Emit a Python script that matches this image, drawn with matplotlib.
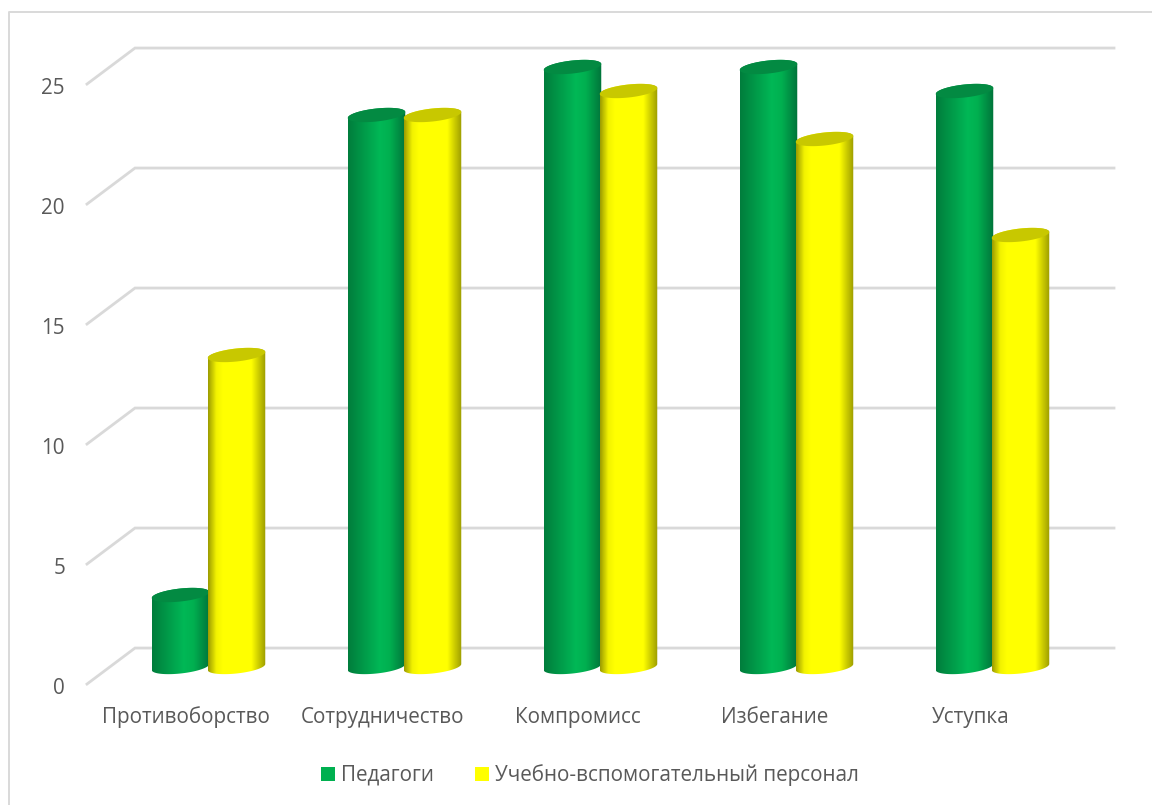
import numpy as np
import matplotlib
matplotlib.use("Agg")
import matplotlib.pyplot as plt
from matplotlib.colors import LinearSegmentedColormap
from matplotlib.patches import Polygon, Rectangle

plt.rcParams['font.family'] = ['Open Sans', 'DejaVu Sans']

CATEGORIES = ['Противоборство', 'Сотрудничество', 'Компромисс', 'Избегание', 'Уступка']
PEDAGOGI = [3, 23, 25, 25, 24]
PERSONAL = [13, 23, 24, 22, 18]
SERIES_NAMES = ['Педагоги', 'Учебно-вспомогательный персонал']
Y_TICKS = [0, 5, 10, 15, 20, 25]

W, H = 1152, 805
X0, X_STEP = 208.5, 196.0   # pixel x of first category, spacing
Y0, Y_STEP = 667.0, 24.0    # pixel y of value 0, pixels per unit
BAR_W = 57.5 / X_STEP
BAR_OFF = 28 / X_STEP       # neighbouring cylinders overlap slightly
RY = 6.5 / Y_STEP           # half height of a cylinder cap
TILT = (3.0 / Y_STEP) / (BAR_W / 2)  # caps lean up to the right
WALL_BACK, WALL_FRONT = 0.79, -0.71
GRID_COLOR = '#d9d9d9'
TEXT_COLOR = '#595959'
FONT_SIZE = 14.9

GREEN_STOPS = [(0, '#007d3c'), (0.55, '#00b856'), (0.72, '#00b050'), (1, '#00733a')]
YELLOW_STOPS = [(0, '#9c9c00'), (0.14, '#f2f200'), (0.25, '#ffff00'), (0.75, '#ffff00'), (1, '#9c9c00')]


def px_x(x):
    return (x - X0) / X_STEP


def px_y(y):
    return (Y0 - y) / Y_STEP


def ellipse_pts(cx, cy, t):
    a = BAR_W / 2
    dx = a * np.cos(t)
    return np.column_stack([cx + dx, cy + RY * np.sin(t) + TILT * dx])


def draw_cylinder(ax, cx, value, stops, cap, z):
    cmap = LinearSegmentedColormap.from_list('cyl', stops)
    top = ellipse_pts(cx, value, np.linspace(0, np.pi, 60))
    bottom = ellipse_pts(cx, 0, np.linspace(np.pi, 2 * np.pi, 60))
    body = Polygon(np.vstack([top, bottom]), closed=True, transform=ax.transData, fc='none', ec='none')
    ax.add_patch(body)
    grad = np.linspace(0, 1, 128).reshape(1, -1)
    im = ax.imshow(grad, cmap=cmap, aspect='auto', zorder=z, interpolation='bilinear',
                   extent=(cx - BAR_W / 2, cx + BAR_W / 2, -1, value + 1))
    im.set_clip_path(body)
    ax.add_patch(Polygon(ellipse_pts(cx, value, np.linspace(0, 2 * np.pi, 120)), closed=True,
                         fc=cap, ec='none', zorder=z + 0.1))


fig = plt.figure(figsize=(W / 100, H / 100), dpi=100)
ax = fig.add_axes([0, 0, 1, 1])
ax.set_axis_off()

# chart frame runs off the right and bottom edges
ax.plot([px_x(9), px_x(9), px_x(W + 5)], [px_y(H + 5), px_y(12), px_y(12)],
        color=GRID_COLOR, lw=1.4, zorder=0)

# back wall gridlines and the slanted side wall
for v in Y_TICKS:
    ax.plot([px_x(87), px_x(135), px_x(1114)], [v + WALL_FRONT, v + WALL_BACK, v + WALL_BACK],
            color=GRID_COLOR, lw=2, solid_joinstyle='miter', zorder=1)
    ax.text(px_x(65), v + WALL_FRONT - 2 / Y_STEP, str(v), ha='right', va='center_baseline',
            fontsize=FONT_SIZE, color=TEXT_COLOR)

for i, name in enumerate(CATEGORIES):
    draw_cylinder(ax, i - BAR_OFF, PEDAGOGI[i], GREEN_STOPS, '#038a42', 2 + i)
    draw_cylinder(ax, i + BAR_OFF, PERSONAL[i], YELLOW_STOPS, '#c8c800', 2.5 + i)
    ax.text(i - 0.113, px_y(717), name, ha='center', va='center',
            fontsize=FONT_SIZE, color=TEXT_COLOR)

# legend
ax.add_patch(Rectangle((px_x(321), px_y(781)), px_x(335) - px_x(321), px_y(767) - px_y(781),
                       fc='#00b050', ec='none'))
ax.add_patch(Rectangle((px_x(475), px_y(781)), px_x(489) - px_x(475), px_y(767) - px_y(781),
                       fc='#ffff00', ec='none'))
ax.text(px_x(341), px_y(775), SERIES_NAMES[0], ha='left', va='center',
        fontsize=FONT_SIZE, color=TEXT_COLOR)
ax.text(px_x(495), px_y(775), SERIES_NAMES[1], ha='left', va='center',
        fontsize=FONT_SIZE, color=TEXT_COLOR)

ax.set_xlim(px_x(0), px_x(W))
ax.set_ylim(px_y(H), px_y(0))

fig.savefig('out.png', dpi=100, facecolor='white')
